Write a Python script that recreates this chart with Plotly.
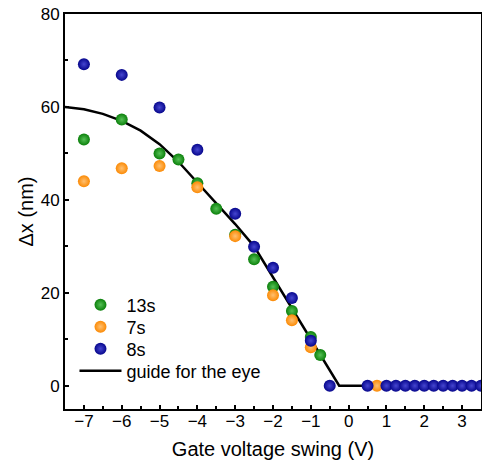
import plotly.graph_objects as go

# ---- data ----
x_13s = [-7, -6, -5, -4.5, -4, -3.5, -3, -2.5, -2, -1.5, -1, -0.75]
y_13s = [53.0, 57.3, 50.0, 48.7, 43.6, 38.1, 32.5, 27.2, 21.3, 16.1, 10.5, 6.6]

x_7s = [-7, -6, -5, -4, -3, -2, -1.5, -1, 0.75]
y_7s = [44.0, 46.8, 47.3, 42.7, 32.2, 19.5, 14.1, 8.3, 0.0]

x_8s = [-7, -6, -5, -4, -3, -2.5, -2, -1.5, -1, -0.5, 0.5,
        1.0, 1.25, 1.5, 1.75, 2.0, 2.25, 2.5, 2.75, 3.0, 3.25, 3.5]
y_8s = [69.2, 66.9, 59.9, 50.8, 37.0, 29.9, 25.4, 18.9, 9.7, 0.0, 0.0,
        0.0, 0.0, 0.0, 0.0, 0.0, 0.0, 0.0, 0.0, 0.0, 0.0, 0.0]

guide_x = [-7.5, -7.0, -6.5, -6.0, -5.5, -5.0, -4.5, -4.0, -3.5, -3.0, -2.5, -0.25, 0.5]
guide_y = [60.0, 59.5, 58.5, 57.0, 54.9, 52.0, 48.2, 43.8, 39.4, 34.8, 30.0, 0.0, 0.0]

FONT = "Arial, Liberation Sans, sans-serif"

def ball(color, center):
    return dict(size=12, color=color, line=dict(width=0),
                gradient=dict(type="radial", color=center))

fig = go.Figure()
fig.add_trace(go.Scatter(x=guide_x, y=guide_y, mode="lines", name="guide for the eye",
                         line=dict(color="black", width=2.5), legend="legend4", showlegend=True))
fig.add_trace(go.Scatter(x=x_13s, y=y_13s, mode="markers", name="13s",
                         marker=ball("#0b800b", "#55c055"), legend="legend", showlegend=True))
fig.add_trace(go.Scatter(x=x_7s, y=y_7s, mode="markers", name="7s",
                         marker=ball("#fb8a05", "#ffc070"), legend="legend2", showlegend=True))
fig.add_trace(go.Scatter(x=x_8s, y=y_8s, mode="markers", name="8s",
                         marker=ball("#06068c", "#4646d0"), legend="legend3", showlegend=True))

axis_common = dict(showgrid=False, zeroline=False, showline=True, linecolor="black",
                   linewidth=2, mirror=True, ticks="inside", ticklen=4, tickwidth=1.5,
                   tickcolor="black", tickfont=dict(family=FONT, size=17, color="black"))

fig.update_xaxes(range=[-7.5, 3.5], tickmode="array",
                 tickvals=[-7, -6, -5, -4, -3, -2, -1, 0, 1, 2, 3],
                 minor=dict(dtick=0.5, tick0=0, ticks="inside", ticklen=3, tickcolor="black"),
                 ticklabelstandoff=-4,
                 title=dict(text="Gate voltage swing (V)", font=dict(family=FONT, size=20, color="black"),
                            standoff=12),
                 **axis_common)
fig.update_yaxes(range=[-5, 80], tickmode="array", tickvals=[0, 20, 40, 60, 80],
                 minor=dict(dtick=10, tick0=0, ticks="inside", ticklen=3, tickcolor="black"),
                 title=dict(text="Δx (nm)", font=dict(family=FONT, size=20, color="black"),
                            standoff=2),
                 **axis_common)

def leg(yc):
    return dict(x=0.0228, y=(409 - yc) / 395, xanchor="left", yanchor="middle",
                bgcolor="rgba(0,0,0,0)", itemwidth=42,
                font=dict(family=FONT, size=18, color="black"))

fig.update_layout(width=482, height=464, margin=dict(l=65, r=1, t=14, b=55, autoexpand=False),
                  plot_bgcolor="white", paper_bgcolor="white", showlegend=True,
                  font=dict(family=FONT, size=18, color="black"),
                  legend=leg(305), legend2=leg(327), legend3=leg(349), legend4=leg(371))

fig.write_html("out.html")
